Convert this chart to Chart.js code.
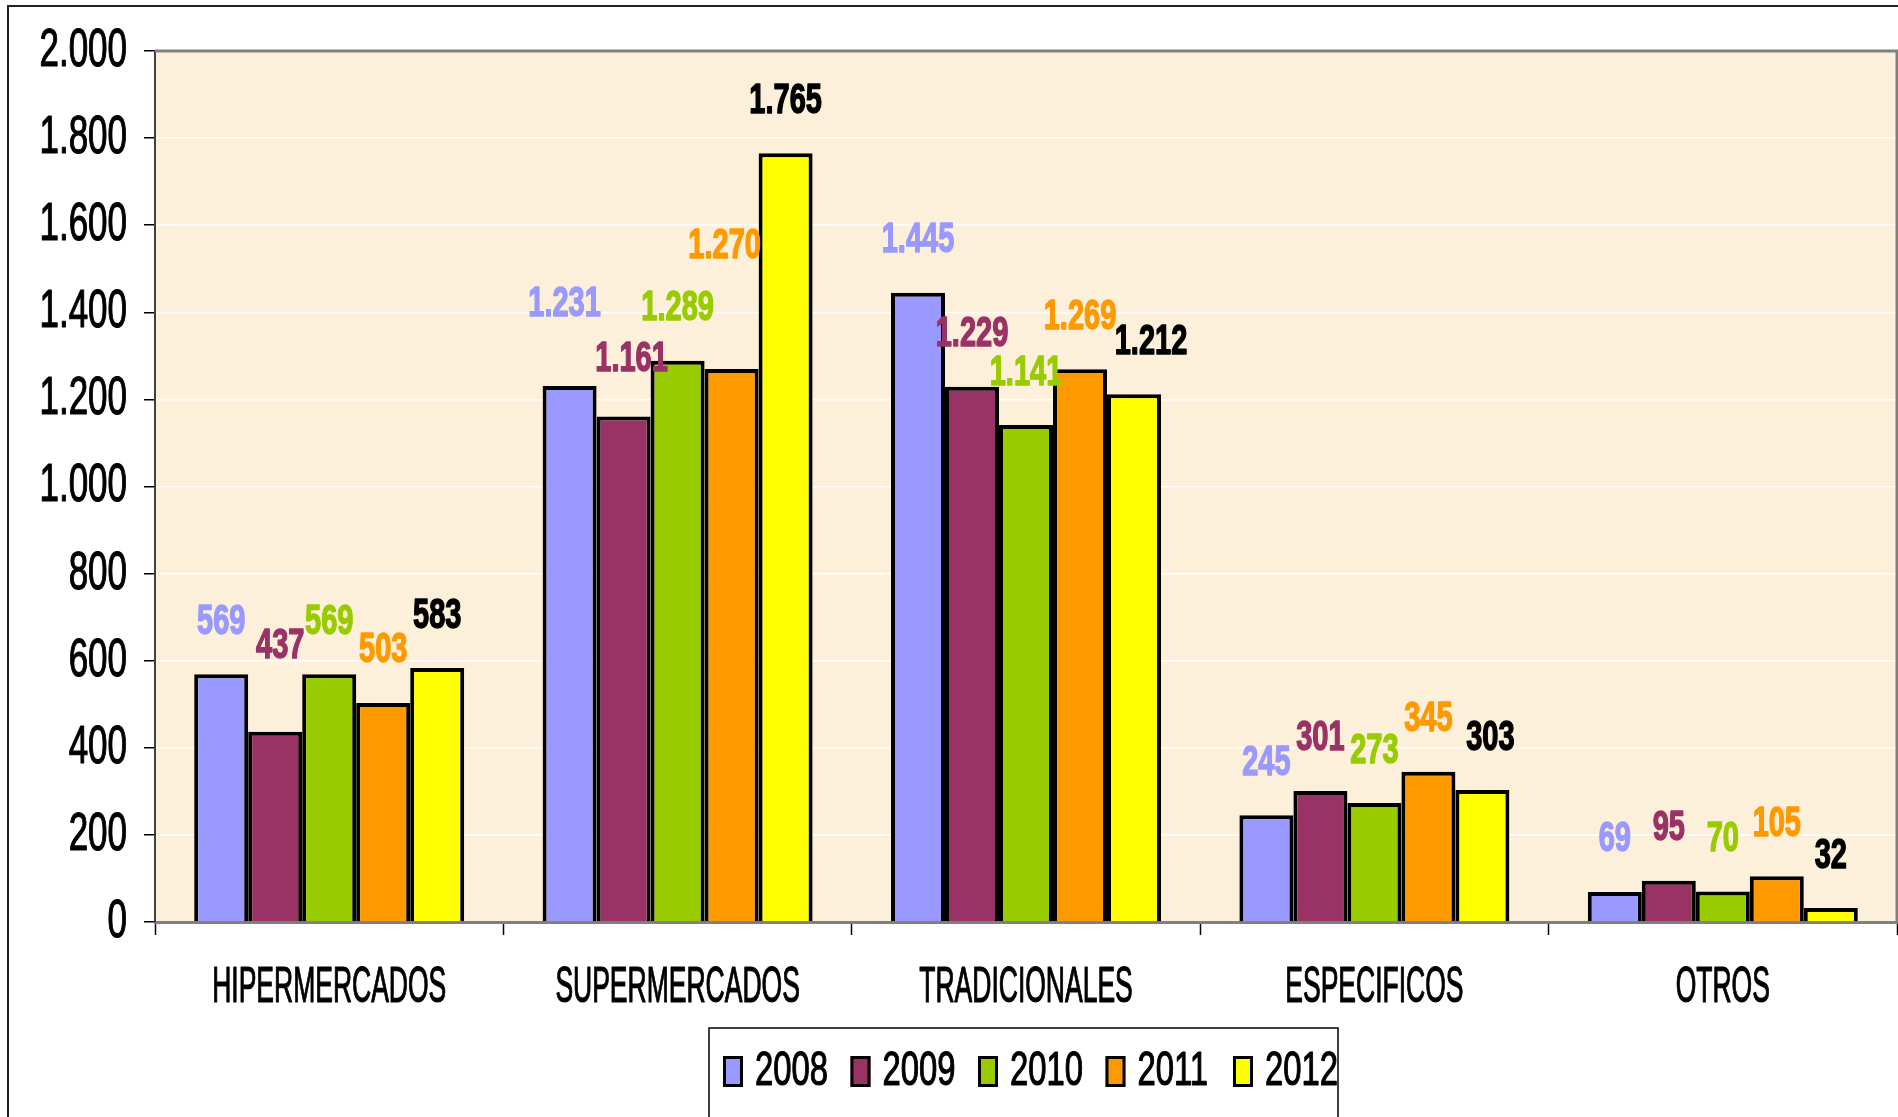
<!DOCTYPE html>
<html><head><meta charset="utf-8">
<script src="https://cdn.jsdelivr.net/npm/chart.js@4.4.0/dist/chart.umd.min.js"></script>
<style>
html,body{margin:0;padding:0;background:#fff;overflow:hidden}
#wrap{position:relative;width:1898px;height:1117px}
canvas{display:block}
</style></head>
<body><div id="wrap"><canvas id="c" width="1898" height="1117"></canvas></div>
<script>
// ---- data ----
const categories = ['HIPERMERCADOS', 'SUPERMERCADOS', 'TRADICIONALES', 'ESPECIFICOS', 'OTROS'];
const years = ['2008', '2009', '2010', '2011', '2012'];
const v2008 = [569, 1231, 1445, 245, 69];
const v2009 = [437, 1161, 1229, 301, 95];
const v2010 = [569, 1289, 1141, 273, 70];
const v2011 = [503, 1270, 1269, 345, 105];
const v2012 = [583, 1765, 1212, 303, 32];
const yTickLabels = ['0', '200', '400', '600', '800', '1.000', '1.200', '1.400', '1.600', '1.800', '2.000'];

// ---- styles ----
const barColors = ['#9999FF', '#993366', '#99CC00', '#FF9900', '#FFFF00'];
const labelColors = ['#9999FF', '#993366', '#99CC00', '#FF9900', '#000000'];
// manual label placement tweaks (as in the original Excel chart): key "dataset-index" -> [dx, dy]
const labelNudge = {'1-0': [5, -33], '0-1': [-5, -29], '1-1': [8, -5], '3-1': [-7, -70], '4-2': [17, 0], '4-3': [8, 0]};
const FONT = '"Liberation Sans", Arial, Helvetica, sans-serif';

const fmt = v => String(v).replace(/\B(?=(\d{3})+(?!\d))/g, '.');

function drawText(ctx, text, x, yCenter, size, bold, sx, align, color, stroke) {
  ctx.save();
  ctx.font = (bold ? 'bold ' : '') + size + 'px ' + FONT;
  ctx.fillStyle = color;
  ctx.strokeStyle = color;
  ctx.lineJoin = 'round';
  ctx.textBaseline = 'alphabetic';
  ctx.textAlign = align;
  ctx.translate(x, yCenter + 0.358 * size);
  ctx.scale(sx, 1);
  ctx.fillText(text, 0, 0);
  if (stroke) { ctx.lineWidth = stroke; ctx.strokeText(text, 0, 0); }
  ctx.restore();
}

const seriesValues = [v2008, v2009, v2010, v2011, v2012];

const decor = {
  id: 'decor',
  beforeDraw(chart) {
    const {ctx, chartArea: a} = chart;
    ctx.save();
    ctx.fillStyle = '#ffffff';
    ctx.fillRect(0, 0, chart.width, chart.height);
    ctx.fillStyle = '#FDF0DA';
    ctx.fillRect(a.left, a.top, a.right - a.left, a.bottom - a.top);
    ctx.restore();
  },
  afterDraw(chart) {
    const {ctx, chartArea: a} = chart;
    const xs = chart.scales.x, ys = chart.scales.y;
    ctx.save();
    // plot frame top / right
    ctx.strokeStyle = '#808080';
    ctx.lineWidth = 3;
    ctx.beginPath();
    ctx.moveTo(a.left, a.top);
    ctx.lineTo(a.right, a.top);
    ctx.lineTo(a.right, a.bottom);
    ctx.stroke();
    // outer chart frame
    ctx.strokeStyle = '#222';
    ctx.lineWidth = 2;
    ctx.beginPath();
    ctx.moveTo(8, chart.height + 2);
    ctx.lineTo(8, 6);
    ctx.lineTo(chart.width + 2, 6);
    ctx.stroke();
    ctx.restore();

    // y tick labels
    ys.ticks.forEach((t, i) => {
      const y = ys.getPixelForValue(t.value);
      drawText(ctx, yTickLabels[i], 127, y - 4, 53, false, 0.66, 'right', '#000', 1.2);
    });
    // category labels
    categories.forEach((c, i) => {
      drawText(ctx, c, xs.getPixelForValue(i), 984, 50, false, 0.53, 'center', '#000', 1.2);
    });
    // data labels
    chart.data.datasets.forEach((ds, di) => {
      const meta = chart.getDatasetMeta(di);
      meta.data.forEach((bar, i) => {
        const n = labelNudge[di + '-' + i] || [0, 0];
        drawText(ctx, fmt(ds.data[i]), bar.x + n[0], bar.y - 55.5 + n[1], 42, true, 0.69, 'center', labelColors[di], 1.5);
      });
    });
    // legend
    ctx.save();
    ctx.strokeStyle = '#000';
    ctx.lineWidth = 1.5;
    ctx.strokeRect(709, 1028, 629, 120);
    ctx.restore();
    chart.data.datasets.forEach((ds, di) => {
      const sx = 723 + di * 127.5;
      ctx.save();
      ctx.fillStyle = ds.backgroundColor;
      ctx.strokeStyle = '#000';
      ctx.lineWidth = 3;
      ctx.fillRect(sx, 1056, 20, 31);
      ctx.strokeRect(sx + 1.5, 1057.5, 17, 28);
      ctx.restore();
      drawText(ctx, ds.label, sx + 32, 1067.5, 49, false, 0.67, 'left', '#000', 1.2);
    });
  }
};

new Chart(document.getElementById('c'), {
  type: 'bar',
  data: {
    labels: categories,
    datasets: years.map((y, i) => ({
      label: y,
      data: seriesValues[i],
      backgroundColor: barColors[i],
      borderColor: '#000',
      borderWidth: 4,
      categoryPercentage: 0.775,
      barPercentage: 1
    }))
  },
  options: {
    responsive: false,
    devicePixelRatio: 1,
    animation: false,
    layout: {padding: {left: 144, top: 51, right: 1, bottom: 182}},
    plugins: {legend: {display: false}, tooltip: {enabled: false}},
    scales: {
      x: {
        ticks: {display: false},
        grid: {drawOnChartArea: false, offset: true, tickLength: 13, tickColor: '#000', tickWidth: 1.5},
        border: {color: '#808080', width: 3}
      },
      y: {
        min: 0, max: 2000,
        ticks: {display: false, stepSize: 200},
        grid: {color: 'rgba(255,255,255,0.9)', lineWidth: 1.5, tickLength: 11, tickColor: '#000', tickWidth: 1.5},
        border: {color: '#404040', width: 2}
      }
    }
  },
  plugins: [decor]
});
</script>
</body></html>
